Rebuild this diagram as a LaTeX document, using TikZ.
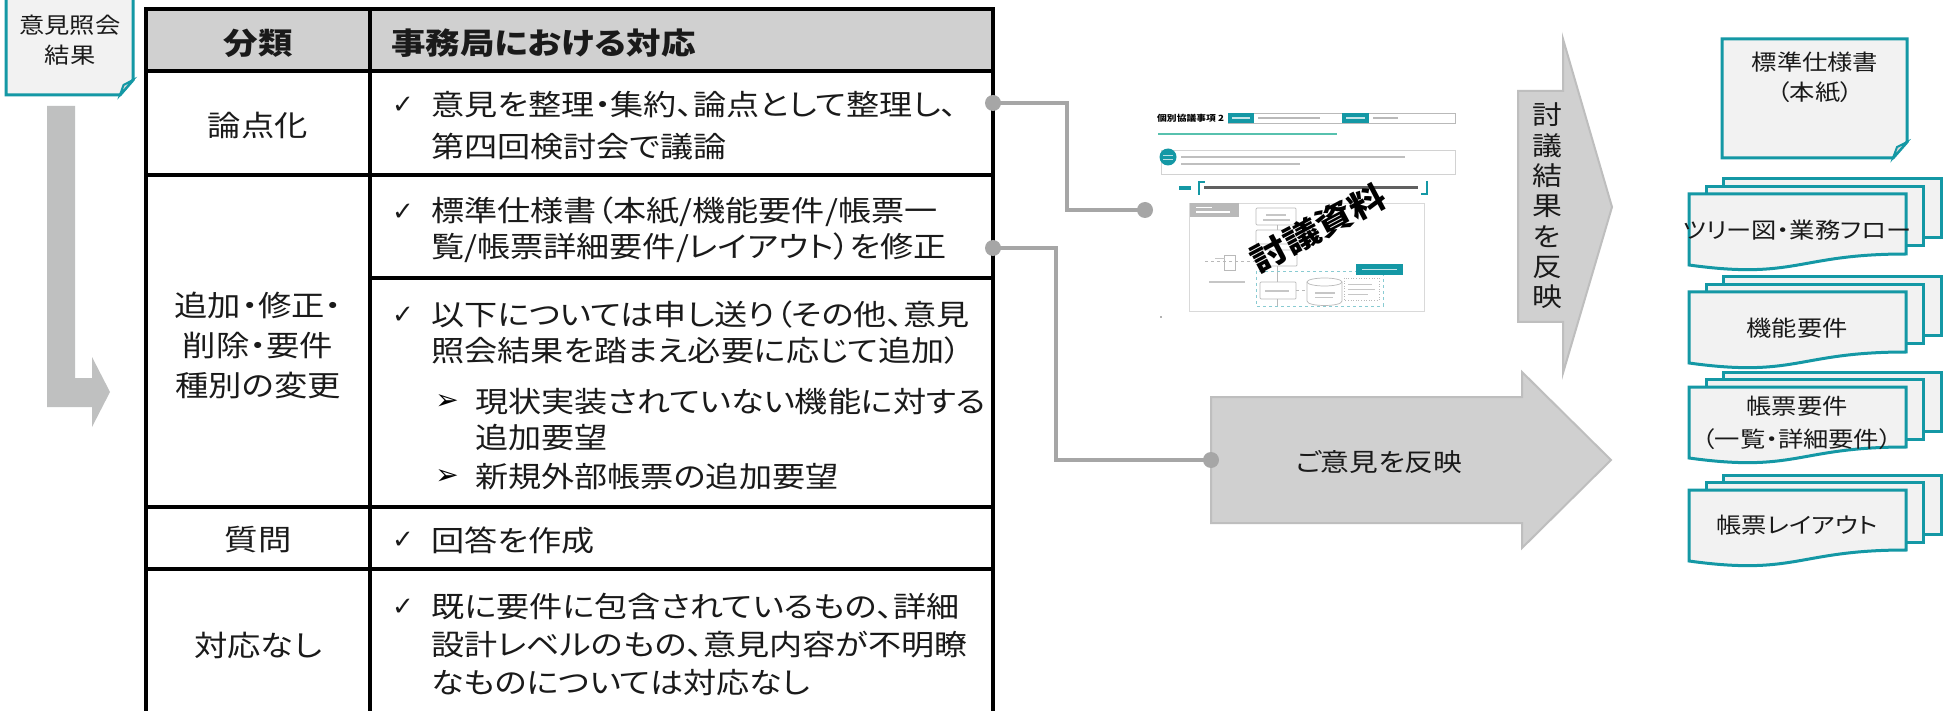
\documentclass[tikz,border=0pt]{standalone}
\usepackage{fontspec}
\setmainfont{Noto Sans CJK JP}[FakeStretch=1.15,RawFeature=+palt]
\newfontfamily\symfont{DejaVu Sans}
\usetikzlibrary{calc}
\definecolor{tealc}{RGB}{20,152,165}
\definecolor{docfill}{RGB}{242,242,242}
\definecolor{hdrfill}{RGB}{208,208,208}
\definecolor{arrfill}{RGB}{208,208,208}
\definecolor{arrline}{RGB}{190,190,190}
\definecolor{lfill}{RGB}{191,192,192}
\definecolor{connc}{RGB}{166,166,166}
\definecolor{txt}{RGB}{26,26,26}
\newcommand\fsz[2]{\fontsize{#1}{#2}\selectfont}
\newcommand\mdoc[2]{%
 \filldraw[docst] ({#1+34},{#2-15}) rectangle ({#1+252},{#2+44});
 \filldraw[docst] ({#1+17},{#2-7.5}) rectangle ({#1+234},{#2+52});
 \filldraw[docst] (#1,#2) -- ({#1+217},#2) -- ({#1+217},{#2+60}) .. controls ({#1+108},{#2+60}) and ({#1+108},{#2+86}) .. (#1,{#2+71}) -- cycle;
}
\begin{document}
\begin{tikzpicture}[x=1pt,y=-1pt,
  tl/.style={line width=3.5pt, draw=black},
  bodyt/.style={font=\fsz{28.8}{38}, anchor=west, inner sep=0pt, text=txt},
  catt/.style={font=\fsz{29}{40}, anchor=center, align=center, inner sep=0pt, text=txt},
  hdrt/.style={font=\bfseries\fsz{30}{36}, inner sep=0pt, text=txt},
  chk/.style={font=\symfont\fsz{26}{28}, inner sep=0pt, text=txt},
  tri/.style={font=\symfont\fsz{28}{30}, inner sep=0pt, text=black},
  docst/.style={draw=tealc, fill=docfill, line width=3pt, line join=miter},
  doct/.style={font=\fsz{22}{30}, align=center, inner sep=0pt, text=txt},
  dotn/.style={circle, fill=connc, minimum size=16pt, inner sep=0pt},
  cn/.style={draw=connc, line width=4pt},
  thl/.style={draw=gray!55, line width=0.7pt},
  thbar/.style={fill=gray!55},
]
\useasboundingbox (0,0) rectangle (1944,711);
\clip (0,0) rectangle (1944,711);
\fill[white] (0,0) rectangle (1944,711);

% ---------- top-left folded box ----------
\filldraw[docst] (6,-5) -- (133,-5) -- (133,80) -- (120,95) -- (6,95) -- cycle;
\filldraw[docst, fill=gray!30, line width=2pt] (120,95) -- (123.5,85) -- (133,80) -- cycle;
\node[doct] (iken) at (70,40) {意見照会\\結果};

% ---------- L arrow ----------
\fill[lfill] (47,106) -- (75,106) -- (75,378) -- (92,378) -- (92,357) -- (110,392) -- (92,427) -- (92,407) -- (47,407) -- cycle;

% ---------- table ----------
\fill[hdrfill] (146,9) rectangle (993,71);
\draw[tl] (146,9) rectangle (993,740);
\draw[tl] (370,9) -- (370,740);
\draw[tl] (146,71) -- (993,71);
\draw[tl] (146,175) -- (993,175);
\draw[tl] (370,278) -- (993,278);
\draw[tl] (146,507) -- (993,507);
\draw[tl] (146,569) -- (993,569);

\node[hdrt] (h1) at (258,43) {分類};
\node[hdrt, anchor=west] (h2) at (391,43) {事務局における対応};

\node[catt] (c1) at (258,125) {論点化};
\node[catt] (c2) at (258,345) {追加・修正・\\削除・要件\\種別の変更};
\node[catt] (c3) at (258,540) {質問};
\node[catt] (c4) at (258,645) {対応なし};

\node[chk] (k1) at (403,105) {✓};
\node[bodyt] (r1a) at (431,105) {意見を整理・集約、論点として整理し、};
\node[bodyt] (r1b) at (431,147) {第四回検討会で議論};
\node[chk] (k2) at (403,212) {✓};
\node[bodyt] (r2a) at (431,212) {標準仕様書（本紙/機能要件/帳票一};
\node[bodyt] (r2b) at (431,248) {覧/帳票詳細要件/レイアウト）を修正};
\node[chk] (k3) at (403,315) {✓};
\node[bodyt] (r3a) at (431,315) {以下については申し送り（その他、意見};
\node[bodyt] (r3b) at (431,351) {照会結果を踏まえ必要に応じて追加）};
\node[tri] (a1) at (447,402) {➢};
\node[bodyt] (r3c) at (475,402) {現状実装されていない機能に対する};
\node[bodyt] (r3d) at (475,438) {追加要望};
\node[tri] (a2) at (447,477) {➢};
\node[bodyt] (r3e) at (475,477) {新規外部帳票の追加要望};
\node[chk] (k4) at (403,540) {✓};
\node[bodyt] (r4a) at (431,540) {回答を作成};
\node[chk] (k5) at (403,607) {✓};
\node[bodyt] (r5a) at (431,607) {既に要件に包含されているもの、詳細};
\node[bodyt] (r5b) at (431,645) {設計レベルのもの、意見内容が不明瞭};
\node[bodyt] (r5c) at (431,683) {なものについては対応なし};

% ---------- thumbnail document ----------
\node[font=\bfseries\fsz{8.5}{10}, anchor=west, inner sep=0pt] (ttl) at (1157,118) {個別協議事項 2};
\draw[thl] (1228,113) rectangle (1455,123);
\fill[tealc] (1228,113) rectangle (1254,123);
\fill[tealc] (1342,113) rectangle (1369,123);
\fill[white!75!tealc] (1232,116.8) rectangle (1250,119.2);
\fill[white!75!tealc] (1346,116.8) rectangle (1365,119.2);
\fill[thbar] (1258,116.8) rectangle (1320,119.2);
\fill[thbar] (1373,116.8) rectangle (1398,119.2);
\fill[tealc!85!green, opacity=.7] (1158,132.8) rectangle (1337,135.5);
\draw[draw=gray!35, line width=0.8pt] (1161,150) rectangle (1455,174);
\fill[tealc] (1168,157) circle (8.5);
\fill[white!70!tealc] (1163,155) rectangle (1173,156.5);
\fill[white!70!tealc] (1163,159) rectangle (1173,160.5);
\fill[gray!50] (1181,156) rectangle (1405,158.3);
\fill[gray!50] (1181,163) rectangle (1300,165.3);
\fill[tealc] (1179,186) rectangle (1191,190);
\draw[tealc, line width=1.3pt] (1199,195) -- (1199,182) -- (1205,182);
\fill[gray!75!black] (1204,186) rectangle (1418,189.5);
\draw[tealc, line width=1.3pt] (1427,181) -- (1427,194) -- (1421,194);
\draw[draw=gray!30, line width=0.8pt] (1189,203) rectangle (1424,311);
\fill[gray!55] (1190,203) rectangle (1239,217);
\fill[white] (1196,207) rectangle (1212,208.5);
\fill[white] (1196,211.5) rectangle (1230,213);
\draw[thl, rounded corners=1pt] (1256,208) rectangle (1296,225);
\draw[thl, rounded corners=1pt] (1256,230) rectangle (1296,244);
\draw[thl, rounded corners=1pt] (1258,250) rectangle (1297,266);
\draw[thl] (1277,225) -- (1277,230);
\draw[thl] (1277,244) -- (1277,250);
\draw[thl] (1277,266) -- (1277,307);
\draw[draw=tealc!50, dashed, line width=0.5pt] (1256,271) rectangle (1383,306);
\fill[tealc] (1356,264) rectangle (1403,275);
\fill[white!75!tealc] (1362,268.8) rectangle (1397,270.5);
\fill[white] (1260,282) rectangle (1296,299);
\draw[thl, rounded corners=1pt] (1260,282) rectangle (1296,299);
\fill[white] (1307,282) -- (1307,301) .. controls (1307,307) and (1342,307) .. (1342,301) -- (1342,282) -- cycle;
\draw[thl] (1307,282) -- (1307,301) .. controls (1307,307) and (1342,307) .. (1342,301) -- (1342,282);
\draw[thl] (1324.5,282) ellipse (17.5 and 4);
\draw[draw=gray!55, dotted, line width=0.6pt] (1344,278) rectangle (1379,300);
\draw[thl, dashed] (1296,290) -- (1307,290);
\draw[thl, dashed] (1205,261) -- (1256,261);
\draw[thl] (1224,255) rectangle (1235,270);
\fill[gray!45] (1209,281) rectangle (1245,283);
\fill[gray!45] (1215,258) rectangle (1225,259.5);
\fill[gray!45] (1265,290) rectangle (1289,292);
\fill[gray!45] (1315,292) rectangle (1335,294);
\fill[gray!45] (1315,297) rectangle (1333,298.5);
\fill[gray!45] (1348,284) rectangle (1372,285.5);
\fill[gray!45] (1348,289) rectangle (1375,290.5);
\fill[gray!45] (1348,294) rectangle (1368,295.5);
\fill[gray!45] (1266,214) rectangle (1286,216);
\fill[gray!45] (1263,219) rectangle (1290,221);
\fill[gray!60] (1160,316) rectangle (1162,318);
\node[font=\bfseries\fsz{32}{36}, rotate=28, inner sep=0pt, text=black] (tgi) at (1318,228) {討議資料};

% ---------- connectors ----------
\node[dotn] (p1) at (993,103) {};
\node[dotn] (p2) at (1145,210) {};
\node[dotn] (p3) at (993,248) {};
\coordinate (q1) at (1067,103);
\coordinate (q3) at (1056,248);
\draw[cn] (p1.center) -- (q1) |- (p2.center);

% ---------- big arrow ----------
\filldraw[fill=arrfill, draw=arrline, line width=2pt] (1211,397) -- (1522,397) -- (1522,372) -- (1611,460) -- (1522,548) -- (1522,523) -- (1211,523) -- cycle;
\node[dotn] (p4) at (1211,460) {};
\draw[cn] (p3.center) -- (q3) |- (p4.center);
\node[font=\fsz{25}{30}, inner sep=0pt, text=txt] (ikenhan) at (1379,462) {ご意見を反映};

% ---------- tall arrow ----------
\filldraw[fill=arrfill, draw=arrline, line width=2pt] (1518,91) -- (1563,91) -- (1563,39) -- (1612,207) -- (1563,373) -- (1563,322) -- (1518,322) -- cycle;
\node[font=\fsz{26}{30.3}, align=center, inner sep=0pt, text=txt] (touhan) at (1547,206) {討\\議\\結\\果\\を\\反\\映};

% ---------- right documents ----------
\filldraw[docst] (1722,39) -- (1907,39) -- (1907,142) -- (1893,158) -- (1722,158) -- cycle;
\filldraw[docst, fill=gray!30, line width=2pt] (1893,158) -- (1897,147) -- (1907,142) -- cycle;
\node[doct] (hon) at (1815,77) {標準仕様書\\（本紙）};

\mdoc{1689}{194}
\node[doct] (dtree) at (1797,230) {ツリー図・業務フロー};
\mdoc{1689}{292}
\node[doct] (dkino) at (1797,328) {機能要件};
\mdoc{1689}{387}
\node[doct, font=\fsz{22}{33}] (dcho) at (1797,423) {帳票要件\\（一覧・詳細要件）};
\mdoc{1689}{490}
\node[doct] (dlay) at (1797,525) {帳票レイアウト};
\end{tikzpicture}
\end{document}
